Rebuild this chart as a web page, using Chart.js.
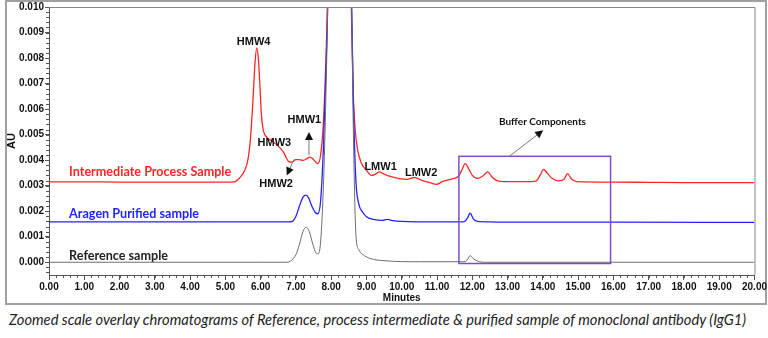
<!DOCTYPE html>
<html>
<head>
<meta charset="utf-8">
<script src="https://cdn.jsdelivr.net/npm/chart.js@4/dist/chart.umd.min.js"></script>
<style>
  body { margin: 0; background: #fff; }
  #wrap { position: relative; width: 768px; height: 338px; overflow: hidden; }
  #frame { position: absolute; left: 5px; top: 0; width: 762px; height: 305px; box-sizing: border-box; border: 2px solid #a0a0a0; }
  #box { position: absolute; left: 0; top: 0; width: 768px; height: 305px; }
  #caption { position: absolute; left: 9px; top: 310px; font: italic 14.7px Lato, "Open Sans", sans-serif; color: #222; white-space: nowrap; }
</style>
</head>
<body>
<div id="wrap">
  <div id="frame"></div>
  <div id="box"><canvas id="chart"></canvas></div>
  <div id="caption">Zoomed scale overlay chromatograms of Reference, process intermediate &amp; purified sample of monoclonal antibody (IgG1)</div>
</div>
<script>
var redTimes = [0, 1, 2, 3, 4, 5, 5.25, 5.4, 5.55, 5.65, 5.72, 5.78, 5.84, 5.89, 5.94, 5.98, 6.02, 6.07, 6.12, 6.2, 6.35, 6.5, 6.65, 6.8, 6.88, 7.0, 7.1, 7.2, 7.3, 7.4, 7.5, 7.62, 7.7, 7.78, 7.84, 7.89, 7.95, 8.22, 8.5, 8.57, 8.62, 8.68, 8.75, 8.85, 9.0, 9.15, 9.25, 9.37, 9.5, 9.7, 9.93, 10.15, 10.36, 10.55, 10.8, 10.99, 11.15, 11.4, 11.6, 11.7, 11.8, 11.9, 12.0, 12.15, 12.3, 12.44, 12.55, 12.7, 12.9, 13.5, 13.8, 13.92, 14.02, 14.12, 14.25, 14.45, 14.6, 14.7, 14.8, 14.95, 16, 17, 18, 19, 20];
var redValues = [0.00315, 0.00315, 0.00314, 0.00314, 0.00314, 0.00314, 0.00315, 0.0033, 0.0036, 0.0041, 0.005, 0.0063, 0.0078, 0.0084, 0.0079, 0.0069, 0.0058, 0.0052, 0.005, 0.00486, 0.00472, 0.00455, 0.0043, 0.00394, 0.00392, 0.00402, 0.00402, 0.00399, 0.00405, 0.00412, 0.00402, 0.00386, 0.0042, 0.0055, 0.0075, 0.01, 0.016, 0.04, 0.016, 0.01, 0.0068, 0.0052, 0.0044, 0.0039, 0.0036, 0.0034, 0.00345, 0.00354, 0.00345, 0.00335, 0.00328, 0.00325, 0.00332, 0.00322, 0.00312, 0.00305, 0.00316, 0.00326, 0.00336, 0.0036, 0.00386, 0.00365, 0.0034, 0.00328, 0.00338, 0.00354, 0.00335, 0.0032, 0.00316, 0.00316, 0.00318, 0.0034, 0.00364, 0.0035, 0.0033, 0.00319, 0.00325, 0.00347, 0.00328, 0.00316, 0.00314, 0.00313, 0.00312, 0.00312, 0.00312];

var blueTimes = [0, 2, 4, 6, 6.8, 6.9, 7.0, 7.1, 7.2, 7.28, 7.36, 7.45, 7.55, 7.62, 7.7, 7.78, 7.85, 7.9, 7.96, 8.22, 8.52, 8.58, 8.63, 8.7, 8.78, 8.9, 9.0, 9.2, 9.45, 9.6, 9.75, 10, 11, 11.75, 11.85, 11.94, 12.03, 12.15, 12.5, 13, 16, 20];
var blueValues = [0.00158, 0.00158, 0.00158, 0.00158, 0.00158, 0.0016, 0.0018, 0.0022, 0.00255, 0.00263, 0.00252, 0.0022, 0.00195, 0.0019, 0.0024, 0.0045, 0.0075, 0.01, 0.016, 0.04, 0.016, 0.01, 0.0062, 0.0032, 0.0023, 0.00195, 0.00178, 0.00168, 0.00164, 0.00168, 0.00163, 0.0016, 0.00158, 0.00158, 0.0017, 0.00192, 0.0017, 0.0016, 0.00158, 0.00157, 0.00157, 0.00156];

var grayTimes = [0, 2, 4, 6, 6.75, 6.85, 7.0, 7.1, 7.2, 7.29, 7.38, 7.48, 7.57, 7.63, 7.7, 7.78, 7.85, 7.9, 7.96, 8.22, 8.52, 8.58, 8.63, 8.7, 8.78, 8.9, 9.1, 9.5, 10.5, 11.8, 11.87, 11.94, 12.02, 12.15, 12.4, 16, 20];
var grayValues = [0, 0, 0, 0, 0, 0.00005, 0.0003, 0.0007, 0.0012, 0.00137, 0.0012, 0.0007, 0.00036, 0.00033, 0.0008, 0.003, 0.0065, 0.01, 0.016, 0.04, 0.016, 0.01, 0.005, 0.0011, 0.0005, 0.0003, 0.00015, 0.00006, 0.00002, 0.00002, 0.00012, 0.00026, 0.00015, 0.00004, 0, 0, 0];

var xTicks = [0, 1, 2, 3, 4, 5, 6, 7, 8, 9, 10, 11, 12, 13, 14, 15, 16, 17, 18, 19, 20];
var yTicks = [0, 0.001, 0.002, 0.003, 0.004, 0.005, 0.006, 0.007, 0.008, 0.009, 0.010];

var seriesNames = ['Intermediate Process Sample', 'Aragen Purified sample', 'Reference sample'];
var seriesColors = ['#ff2626', '#2323ff', '#6e6e6e'];

// etiquetas de picos (minutos, AU)
var peakLabels = [
  { text: 'HMW4', x: 5.8, y: 0.00862 },
  { text: 'HMW3', x: 6.39, y: 0.00467 },
  { text: 'HMW1', x: 7.24, y: 0.00556 },
  { text: 'HMW2', x: 6.44, y: 0.00307 },
  { text: 'LMW1', x: 9.4, y: 0.00373 },
  { text: 'LMW2', x: 10.55, y: 0.00349 },
  { text: 'Buffer Components', x: 13.99, y: 0.00549 }
];
var arrows = [
  { x1: 7.37, y1: 0.00419, x2: 7.37, y2: 0.0051 },
  { x1: 6.94, y1: 0.00402, x2: 6.74, y2: 0.0034 },
  { x1: 13.05, y1: 0.00415, x2: 14.01, y2: 0.00517 }
];
var bufferBox = { x1: 11.62, x2: 15.92, y1: 0.00415, y2: -0.00005 };
var seriesLabelPos = [
  { x: 0.57, y: 0.00353 },
  { x: 0.57, y: 0.0019 },
  { x: 0.57, y: 0.00026 }
];

function toPoints(times, values) {
  return times.map(function(t, i) { return { x: t, y: values[i] }; });
}

// marco, marcas menores y anotaciones
var extras = {
  id: 'extras',
  afterDatasetsDraw: function(chart) {
    var ctx = chart.ctx, xs = chart.scales.x, ys = chart.scales.y, a = chart.chartArea;
    ctx.save();
    // borde superior y derecho del area
    ctx.strokeStyle = '#888';
    ctx.lineWidth = 1;
    ctx.beginPath();
    ctx.moveTo(a.left, a.top + 0.5); ctx.lineTo(a.right + 0.5, a.top + 0.5); ctx.lineTo(a.right + 0.5, a.bottom);
    ctx.stroke();
    // marcas menores
    ctx.strokeStyle = '#555';
    ctx.beginPath();
    for (var i = 0; i <= 100; i++) {
      var px = Math.round(xs.getPixelForValue(i * 0.2)) + 0.5;
      ctx.moveTo(px, a.bottom); ctx.lineTo(px, a.bottom + 3);
    }
    for (var j = -2; j <= 50; j++) {
      var py = Math.round(ys.getPixelForValue(j * 0.0002)) + 0.5;
      ctx.moveTo(a.left - 3, py); ctx.lineTo(a.left, py);
    }
    ctx.stroke();
    // caja de componentes del buffer
    ctx.strokeStyle = '#7b4fc4';
    ctx.lineWidth = 1.5;
    ctx.strokeRect(xs.getPixelForValue(bufferBox.x1), ys.getPixelForValue(bufferBox.y1),
      xs.getPixelForValue(bufferBox.x2) - xs.getPixelForValue(bufferBox.x1),
      ys.getPixelForValue(bufferBox.y2) - ys.getPixelForValue(bufferBox.y1));
    // flechas
    ctx.strokeStyle = '#777';
    ctx.fillStyle = '#111';
    ctx.lineWidth = 1;
    arrows.forEach(function(ar) {
      var x1 = xs.getPixelForValue(ar.x1), y1 = ys.getPixelForValue(ar.y1);
      var x2 = xs.getPixelForValue(ar.x2), y2 = ys.getPixelForValue(ar.y2);
      var ang = Math.atan2(y2 - y1, x2 - x1);
      ctx.beginPath(); ctx.moveTo(x1, y1); ctx.lineTo(x2 - 5 * Math.cos(ang), y2 - 5 * Math.sin(ang)); ctx.stroke();
      ctx.beginPath();
      ctx.moveTo(x2, y2);
      ctx.lineTo(x2 - 8 * Math.cos(ang) + 4 * Math.sin(ang), y2 - 8 * Math.sin(ang) - 4 * Math.cos(ang));
      ctx.lineTo(x2 - 8 * Math.cos(ang) - 4 * Math.sin(ang), y2 - 8 * Math.sin(ang) + 4 * Math.cos(ang));
      ctx.closePath(); ctx.fill();
    });
    // etiquetas de picos
    ctx.fillStyle = '#111';
    ctx.textAlign = 'center';
    ctx.textBaseline = 'middle';
    peakLabels.forEach(function(l) {
      ctx.font = l.text.length > 6 ? 'bold 10px Lato, sans-serif' : 'bold 11px "Liberation Sans", Arial, sans-serif';
      ctx.fillText(l.text, xs.getPixelForValue(l.x), ys.getPixelForValue(l.y));
    });
    // nombres de las series
    ctx.textAlign = 'left';
    ctx.font = 'bold 12.6px Lato, "Open Sans", sans-serif';
    seriesNames.forEach(function(n, k) {
      ctx.fillStyle = k === 2 ? '#222' : seriesColors[k];
      ctx.fillText(n, xs.getPixelForValue(seriesLabelPos[k].x), ys.getPixelForValue(seriesLabelPos[k].y));
    });
    ctx.restore();
  }
};

var tickFont = { family: '"Liberation Sans Narrow", "Liberation Sans", Arial, sans-serif', size: 10, weight: 'bold' };

var chart = new Chart(document.getElementById('chart').getContext('2d'), {
  type: 'line',
  data: {
    datasets: [
      { label: seriesNames[2], data: toPoints(grayTimes, grayValues), borderColor: seriesColors[2], borderWidth: 1 },
      { label: seriesNames[1], data: toPoints(blueTimes, blueValues), borderColor: seriesColors[1], borderWidth: 1.3 },
      { label: seriesNames[0], data: toPoints(redTimes, redValues), borderColor: seriesColors[0], borderWidth: 1.3 }
    ]
  },
  options: {
    responsive: true,
    maintainAspectRatio: false,
    animation: false,
    layout: { padding: { left: 0, top: 6, right: 13, bottom: 0 } },
    elements: { point: { radius: 0 }, line: { cubicInterpolationMode: 'monotone', fill: false } },
    plugins: { legend: { display: false }, tooltip: { enabled: false } },
    scales: {
      x: {
        type: 'linear', min: 0, max: 20,
        afterBuildTicks: function(s) { s.ticks = xTicks.map(function(v) { return { value: v }; }); },
        afterFit: function(s) { s.height = 30; },
        ticks: { font: tickFont, color: '#111', padding: 1, maxRotation: 0, callback: function(v) { return v.toFixed(2); } },
        grid: { drawOnChartArea: false, tickLength: 5, color: '#555' },
        border: { color: '#555' },
        title: { display: true, text: 'Minutes', font: tickFont, color: '#111', padding: { top: 0, bottom: 1 } }
      },
      y: {
        type: 'linear', min: -0.0005, max: 0.010,
        afterBuildTicks: function(s) { s.ticks = yTicks.map(function(v) { return { value: v }; }); },
        afterFit: function(s) { s.width = 49; },
        ticks: { font: tickFont, color: '#111', padding: 1, callback: function(v) { return v.toFixed(3); } },
        grid: { drawOnChartArea: false, tickLength: 4, color: '#555' },
        border: { color: '#555' },
        title: { display: true, text: 'AU', font: { family: '"Liberation Sans", Arial, sans-serif', size: 11, weight: 'bold' }, color: '#111', padding: { top: 5, bottom: 0 } }
      }
    }
  },
  plugins: [extras]
});
</script>
</body>
</html>
